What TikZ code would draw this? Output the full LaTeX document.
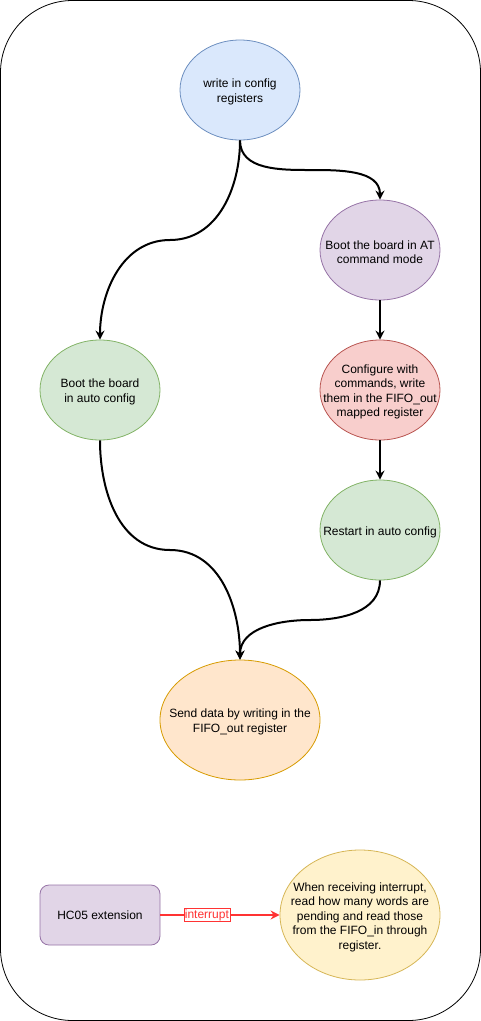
\documentclass[tikz,border=0pt]{standalone}
\usepackage{fontspec}
\setmainfont{Liberation Sans}
\usetikzlibrary{arrows.meta,shapes.geometric}
\definecolor{bluef}{HTML}{DAE8FC}\definecolor{blued}{HTML}{6C8EBF}
\definecolor{purf}{HTML}{E1D5E7}\definecolor{purd}{HTML}{9673A6}
\definecolor{redf}{HTML}{F8CECC}\definecolor{redd}{HTML}{B85450}
\definecolor{grnf}{HTML}{D5E8D4}\definecolor{grnd}{HTML}{82B366}
\definecolor{orf}{HTML}{FFE6CC}\definecolor{ord}{HTML}{D79B00}
\definecolor{yelf}{HTML}{FFF2CC}\definecolor{yeld}{HTML}{D6B656}
\definecolor{intred}{HTML}{FF3333}
\tikzset{
  blob/.style={ellipse,draw,line width=0.8pt,minimum width=120pt,minimum height=100pt,inner sep=0pt},
  txt/.style={align=center,inner sep=0pt,yshift=-2pt,font=\fontsize{12}{14.5}\selectfont},
  flow/.style={line width=2pt,-{Stealth[length=9pt,width=9pt,inset=3pt]}},
}
\begin{document}
\begin{tikzpicture}[x=1pt,y=-1pt]
\useasboundingbox (0,0) rectangle (481,1021);
\draw[line width=0.8pt,rounded corners=72pt] (0.5,0.5) rectangle (480.5,1020.5);

\node[blob,fill=bluef,draw=blued] (top) at (240,90) {};
\node[txt] (ttop) at (top) {write in config\\registers};
\node[blob,fill=purf,draw=purd] (at) at (380,250) {};
\node[txt] (tat) at (at) {Boot the board in AT\\command mode};
\node[blob,fill=redf,draw=redd] (cfg) at (380,390) {};
\node[txt] (tcfg) at (cfg) {Configure with\\commands, write\\them in the FIFO\_out\\mapped register};
\node[blob,fill=grnf,draw=grnd] (rst) at (380,530) {};
\node[txt] (trst) at (rst) {Restart in auto config};
\node[blob,fill=grnf,draw=grnd] (boot) at (100,390) {};
\node[txt] (tboot) at (boot) {Boot the board\\in auto config};
\node[blob,fill=orf,draw=ord,minimum width=160pt,minimum height=120pt] (send) at (240,720) {};
\node[txt] (tsend) at (send) {Send data by writing in the\\FIFO\_out register};
\node[blob,fill=yelf,draw=yeld,minimum width=160pt,minimum height=130pt] (irq) at (360,915) {};
\node[txt] (tirq) at (irq) {When receiving interrupt,\\read how many words are\\pending and read those\\from the FIFO\_in through\\register.};
\node[draw=purd,fill=purf,line width=0.8pt,rounded corners=9pt,minimum width=120pt,minimum height=60pt,font=\fontsize{12}{14.5}\selectfont] (hc) at (100,915) {HC05 extension};

\coordinate (m1) at (170,240);
\coordinate (m2) at (310,170);
\coordinate (m3) at (170,550);
\coordinate (m4) at (310,620);

\draw[flow] (top.south) to[out=-90,in=0] (m1) to[out=180,in=90] (boot.north);
\draw[flow] (top.south) to[out=-90,in=180] (m2) to[out=0,in=90] (at.north);
\draw[flow] (at) -- (cfg);
\draw[flow] (cfg) -- (rst);
\draw[flow] (boot.south) to[out=-90,in=180] (m3) to[out=0,in=90] (send.north);
\draw[line width=2pt] (rst.south) to[out=-90,in=0] (m4);
\draw[flow] (m4) to[out=180,in=90] (send.north);

\draw[line width=2pt,draw=intred,-{Stealth[length=9pt,width=9pt,inset=3pt]}] (hc.east) -- (irq.west)
  node[pos=0.39,fill=white,draw=intred,line width=0.6pt,inner sep=1pt,text=intred,font=\fontsize{12}{13}\selectfont] (lbl) {interrupt};
\end{tikzpicture}
\end{document}
